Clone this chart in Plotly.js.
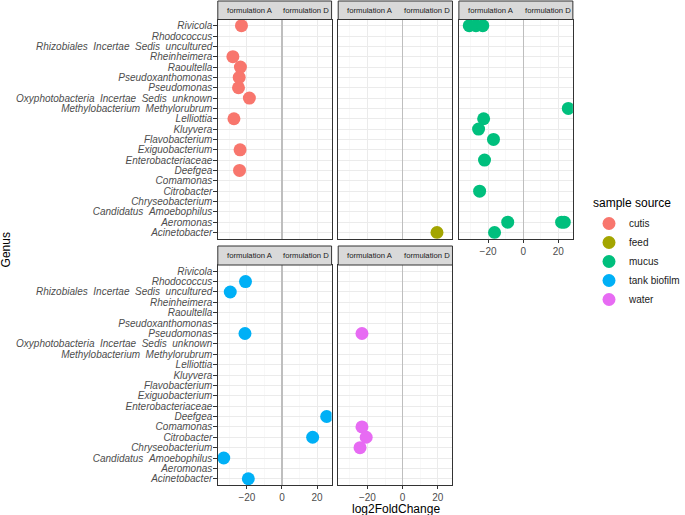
<!DOCTYPE html>
<html>
<head>
<meta charset="utf-8">
<script src="https://cdn.plot.ly/plotly-3.0.1.min.js"></script>
<style>html,body{margin:0;padding:0;background:#fff;}#chart{width:685px;height:515px;}</style>
</head>
<body>
<div id="chart"></div>
<script>
// ---- data ----
var genera = ["Acinetobacter","Aeromonas","Candidatus Amoebophilus","Chryseobacterium","Citrobacter","Comamonas","Deefgea","Enterobacteriaceae","Exiguobacterium","Flavobacterium","Kluyvera","Lelliottia","Methylobacterium Methylorubrum","Oxyphotobacteria Incertae Sedis unknown","Pseudomonas","Pseudoxanthomonas","Raoultella","Rheinheimera","Rhizobiales Incertae Sedis uncultured","Rhodococcus","Rivicola"];
var sources = ["cutis","feed","mucus","tank biofilm","water"];
var sourceColors = ["#F8766D","#A3A500","#00BF7D","#00B0F6","#E76BF3"];
var legendTitle = "sample source";
var stripLeft = "formulation A";
var stripRight = "formulation D";
var xTickVals = [-20, 0, 20];

var cutisGenus = ["Rivicola","Rheinheimera","Raoultella","Pseudoxanthomonas","Pseudomonas","Oxyphotobacteria Incertae Sedis unknown","Lelliottia","Exiguobacterium","Deefgea"];
var cutisLFC = [-23.1,-28.0,-23.7,-24.4,-24.8,-18.6,-27.4,-23.9,-24.2];

var feedGenus = ["Acinetobacter"];
var feedLFC = [19.5];

var mucusGenus = ["Rivicola","Rivicola","Rivicola","Methylobacterium Methylorubrum","Lelliottia","Kluyvera","Flavobacterium","Enterobacteriaceae","Citrobacter","Aeromonas","Aeromonas","Aeromonas","Acinetobacter"];
var mucusLFC = [-30.7,-26.9,-23.0,25.7,-22.5,-25.4,-16.9,-22.0,-24.8,-8.8,21.9,23.4,-16.3];

var tankGenus = ["Rhodococcus","Rhizobiales Incertae Sedis uncultured","Pseudomonas","Deefgea","Citrobacter","Candidatus Amoebophilus","Acinetobacter"];
var tankLFC = [-20.8,-29.5,-21.1,25.5,17.5,-33.2,-19.2];

var waterGenus = ["Pseudomonas","Comamonas","Citrobacter","Chryseobacterium"];
var waterLFC = [-23.1,-23.1,-20.7,-24.2];

// ---- layout geometry (pixels) ----
var W = 685, H = 515;
var FONT = "Liberation Sans, Arial, Helvetica, sans-serif";
var cols = [[220.7, 336.0], [342.7, 458.5], [465.0, 580.5]];
var rows = [{strip:[1, 19.5], panel:[19.5, 238.7]}, {strip:[246, 265], panel:[265, 485]}];
function px(x){ return x / W; }
function py(y){ return 1 - y / H; }

var tickLabels = genera.map(function(g){ return g.replace(/ /g, " \u00A0"); });

var panels = [
  {src:0, col:0, row:0, xs:cutisLFC, ys:cutisGenus, xlabels:false, ylabels:true},
  {src:1, col:1, row:0, xs:feedLFC, ys:feedGenus, xlabels:false, ylabels:false},
  {src:2, col:2, row:0, xs:mucusLFC, ys:mucusGenus, xlabels:true, ylabels:false},
  {src:3, col:0, row:1, xs:tankLFC, ys:tankGenus, xlabels:true, ylabels:true},
  {src:4, col:1, row:1, xs:waterLFC, ys:waterGenus, xlabels:true, ylabels:false}
];

var layout = {
  width: W, height: H,
  margin: {l:0, r:0, t:0, b:0},
  paper_bgcolor: "#ffffff",
  plot_bgcolor: "#ffffff",
  font: {family: FONT, color: "#1A1A1A"},
  showlegend: true,
  legend: {
    x: px(597), y: py(209), xanchor: "left", yanchor: "top",
    font: {size: 10, color: "#1A1A1A"},
    bgcolor: "rgba(0,0,0,0)", borderwidth: 0, tracegroupgap: 0,
    itemsizing: "trace"
  },
  shapes: [],
  annotations: []
};

var traces = [];
panels.forEach(function(p, i){
  var n = i + 1;
  var xa = "xaxis" + (n === 1 ? "" : n), ya = "yaxis" + (n === 1 ? "" : n);
  var xr = "x" + (n === 1 ? "" : n), yr = "y" + (n === 1 ? "" : n);
  var c = cols[p.col], r = rows[p.row];
  layout[xa] = {
    domain: [px(c[0]), px(c[1])], anchor: yr,
    range: [-36.6, 28.3], tickmode: "array", tickvals: xTickVals,
    showgrid: true, gridcolor: "#EBEBEB", gridwidth: 1,
    minor: {tickmode: "linear", tick0: 0, dtick: 10, showgrid: true, gridcolor: "#F3F3F3", gridwidth: 0.6, ticks: ""},
    zeroline: true, zerolinecolor: "#BEBEBE", zerolinewidth: 1.3,
    showline: true, mirror: true, linecolor: "#333333", linewidth: 1,
    showticklabels: p.xlabels, ticks: p.xlabels ? "outside" : "", ticklen: 3, tickcolor: "#333333", tickwidth: 1,
    tickfont: {size: 10, color: "#4D4D4D", family: FONT},
    fixedrange: true
  };
  layout[ya] = {
    domain: [py(r.panel[1]), py(r.panel[0])], anchor: xr,
    type: "category", categoryorder: "array", categoryarray: genera,
    tickmode: "array", tickvals: genera, ticktext: tickLabels,
    range: [-0.6, genera.length - 0.4],
    showgrid: true, gridcolor: "#EBEBEB", gridwidth: 1,
    zeroline: false,
    showline: true, mirror: true, linecolor: "#333333", linewidth: 1,
    showticklabels: p.ylabels, ticks: p.ylabels ? "outside" : "", ticklen: 3.5, tickcolor: "#333333", tickwidth: 1,
    ticklabelstandoff: -1,
    tickfont: {size: 10, color: "#4D4D4D", family: FONT, style: "italic"},
    fixedrange: true
  };
  traces.push({
    type: "scatter", mode: "markers",
    x: p.xs, y: p.ys, xaxis: xr, yaxis: yr,
    name: sources[p.src],
    marker: {size: 13, color: sourceColors[p.src], line: {width: 0}},
    showlegend: true, hoverinfo: "x+y"
  });
  // strip
  layout.shapes.push({type: "rect", xref: "paper", yref: "paper",
    x0: px(c[0]), x1: px(c[1]), y0: py(r.strip[1]), y1: py(r.strip[0]),
    fillcolor: "#D9D9D9", line: {color: "#333333", width: 1}, layer: "above"});
  var ty = py((r.strip[0] + r.strip[1]) / 2);
  layout.annotations.push({xref: "paper", yref: "paper", x: px(c[0] + 32.5), y: ty,
    text: stripLeft, showarrow: false, xanchor: "center", yanchor: "middle",
    font: {size: 7.7, color: "#1A1A1A", family: FONT}});
  layout.annotations.push({xref: "paper", yref: "paper", x: px(c[1] - 25.5), y: ty,
    text: stripRight, showarrow: false, xanchor: "center", yanchor: "middle",
    font: {size: 7.7, color: "#1A1A1A", family: FONT}});
});

layout.annotations.push({xref: "paper", yref: "paper", x: px(600), y: py(203),
  text: legendTitle, showarrow: false, xanchor: "left", yanchor: "middle",
  font: {size: 12, color: "#000000", family: FONT}, borderpad: 0});
layout.annotations.push({xref: "paper", yref: "paper", x: px(401), y: py(508.5),
  text: "log2FoldChange", showarrow: false, xanchor: "center", yanchor: "middle",
  font: {size: 12, color: "#000000", family: FONT}, borderpad: 0});
layout.annotations.push({xref: "paper", yref: "paper", x: px(6.5), y: py(250),
  text: "Genus", textangle: -90, showarrow: false, xanchor: "center", yanchor: "middle",
  font: {size: 12, color: "#000000", family: FONT}});

Plotly.newPlot("chart", traces, layout, {displayModeBar: false, staticPlot: true});
</script>
</body>
</html>
